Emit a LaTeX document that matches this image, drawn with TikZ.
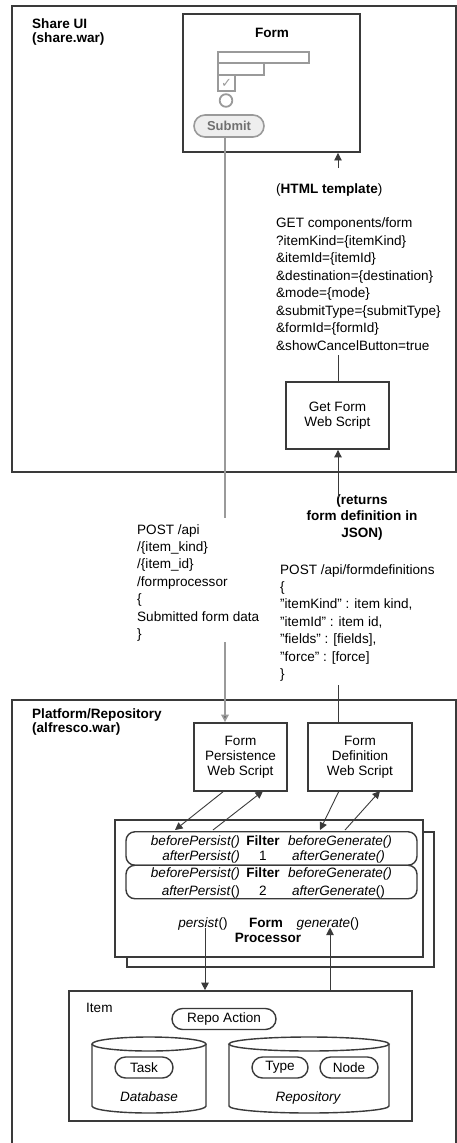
\documentclass[tikz,border=0pt]{standalone}
\usepackage{fontspec}
\setmainfont{Liberation Sans}
\newfontfamily\symfont{DejaVu Sans}
\usetikzlibrary{arrows.meta,shapes.misc}
\definecolor{ink}{HTML}{3A3A3A}
\definecolor{wire}{HTML}{9A9A9A}
\definecolor{pillfill}{HTML}{EEEEEE}
\definecolor{pilltext}{HTML}{707070}
% straight double quote
\newcommand\dq{\symbol{34}}
\begin{document}
\begin{tikzpicture}[x=1bp,y=-1bp,
  every node/.style={inner sep=0pt, font=\fontsize{13.6}{17.5}\selectfont},
  frame/.style={draw=ink, line width=1.9bp},
  box/.style={draw=ink, line width=1.8bp, fill=white, align=center,
    font=\fontsize{13.6}{15}\selectfont},
  pill/.style={rounded rectangle, draw=ink, line width=1.4bp, fill=white,
    minimum height=21bp},
  filterbox/.style={draw=ink, line width=1.4bp, rounded corners=9bp,
    minimum width=291bp, minimum height=33.5bp},
  widget/.style={draw=wire, line width=1.8bp, fill=white},
  link/.style={draw=ink, line width=0.9bp},
  tip/.style={-{Triangle[length=7.5bp,width=7.5bp]}},
  note/.style={align=left, anchor=north west},
  title/.style={align=left, anchor=north west, font=\bfseries\fontsize{13.6}{15}\selectfont},
]
\useasboundingbox (0,0) rectangle (457,1143);

% ---------- Share UI ----------
\node[frame, minimum width=444bp, minimum height=466bp] (share) at (234,239) {};
\node[title] (sharelbl) at (32,18) {Share UI\\(share.war)};

\node[frame, minimum width=177bp, minimum height=138bp] (form) at (271.5,83) {};
\node[font=\bfseries\fontsize{13.6}{15}\selectfont] (formtitle) at (272,33) {Form};
\draw[widget] (218,52) rectangle (309,63);
\draw[widget] (218,63) rectangle (264,75);
\node[widget, minimum width=17bp, minimum height=16bp] (check) at (226.5,83)
  {\color{wire}\symfont\fontsize{13}{13}\selectfont ✓};
\draw[widget] (226,100.5) circle[radius=6.3bp];
\node[rounded rectangle, draw=wire, line width=1.6bp, fill=pillfill,
  minimum width=70bp, minimum height=22bp,
  font=\bfseries\fontsize{13}{15}\selectfont, text=pilltext] (submit) at (229,126) {Submit};

\node[box, minimum width=103bp, minimum height=67bp] (getws) at (337.5,415.5) {Get Form\\Web Script};

\node[note] (getreq) at (276,183) {(\textbf{HTML template})\\[17.5bp]
GET components/form\\
?itemKind=\{itemKind\}\\
\&itemId=\{itemId\}\\
\&destination=\{destination\}\\
\&mode=\{mode\}\\
\&submitType=\{submitType\}\\
\&formId=\{formId\}\\
\&showCancelButton=true};

% ---------- between the two tiers ----------
\node[align=center, anchor=north, font=\bfseries\fontsize{13.6}{17}\selectfont] (returns)
  at (362,494) {(returns\\form definition in\\JSON)};
\node[note] (postproc) at (137,524) {POST /api\\
/\{item\_kind\}\\
/\{item\_id\}\\
/formprocessor\\
\{\\
Submitted form data\\
\}};
\node[note] (postdef) at (280,564) {POST /api/formdefinitions\\
\{\\
\dq itemKind\dq\ : item kind,\\
\dq itemId\dq\ : item id,\\
\dq fields\dq\ : [fields],\\
\dq force\dq\ : [force]\\
\}};

% ---------- Platform / Repository ----------
\draw[frame] (12,1160) -- (12,700) -- (456,700) -- (456,1160);
\node[title] (platlbl) at (32,708) {Platform/Repository\\(alfresco.war)};

\node[box, minimum width=93bp, minimum height=68bp] (persistws) at (240.5,757) {Form\\Persistence\\Web Script};
\node[box, minimum width=104bp, minimum height=68bp] (defws) at (360,757) {Form\\Definition\\Web Script};

% form processor with its shadow copy
\draw[ink, line width=1.7bp, fill=white] (127,832) rectangle (434,967);
\node[draw=ink, line width=1.7bp, fill=white, minimum width=308bp, minimum height=137bp] (proc) at (269,888.5) {};
\node[filterbox] (filterA) at (271.5,848.5) {};
\node[filterbox] (filterB) at (271.5,882) {};

\node[anchor=base east] (aBP) at (240,845.5) {\itshape beforePersist()};
\node[anchor=base east] (aAP) at (240,860) {\itshape afterPersist()};
\node[anchor=base] (aF) at (263,845.5) {\bfseries Filter};
\node[anchor=base] (aN) at (263,860) {1};
\node[anchor=base] (aBG) at (340,845.5) {\itshape beforeGenerate()};
\node[anchor=base] (aAG) at (338.5,860) {\itshape afterGenerate()};

\node[anchor=base east] (bBP) at (240,877.5) {\itshape beforePersist()};
\node[anchor=base east] (bAP) at (240,895.5) {\textit{afterPersist}()};
\node[anchor=base] (bF) at (263,877.5) {\bfseries Filter};
\node[anchor=base] (bN) at (263,895.5) {2};
\node[anchor=base] (bBG) at (340,877.5) {\itshape beforeGenerate()};
\node[anchor=base] (bAG) at (338.5,895.5) {\textit{afterGenerate}()};

\node[anchor=base] (persistlbl) at (203,927.5) {\textit{persist}()};
\node[anchor=base] (proclbl) at (266,927.5) {\bfseries Form};
\node[anchor=base] (proclbl2) at (268,942.5) {\bfseries Processor};
\node[anchor=base] (generatelbl) at (328,927.5) {\textit{generate}()};

% item and its stores
\node[draw=ink, line width=1.7bp, fill=white, minimum width=343bp, minimum height=130bp] (item) at (240.5,1056) {};
\node[anchor=base west] (itemlbl) at (86,1012.5) {Item};
\node[pill, minimum width=104bp] (repoaction) at (224,1019) {Repo Action};

\draw[ink, line width=1.4bp, fill=white] (92,1044) -- (92,1106)
  arc[start angle=180, end angle=360, x radius=57bp, y radius=7bp] -- (206,1044);
\draw[ink, line width=1.4bp, fill=white] (149,1044) ellipse[x radius=57bp, y radius=7bp];
\draw[ink, line width=1.4bp, fill=white] (229,1044) -- (229,1106)
  arc[start angle=180, end angle=360, x radius=80bp, y radius=7bp] -- (389,1044);
\draw[ink, line width=1.4bp, fill=white] (309,1044) ellipse[x radius=80bp, y radius=7bp];

\node[pill, minimum width=58bp] (task) at (144,1067.5) {Task};
\node[anchor=base] (dblbl) at (149,1101.5) {\itshape Database};
\node[pill, minimum width=56bp] (type) at (280,1067.5) {Type};
\node[pill, minimum width=58bp] (nodepill) at (349,1067.5) {Node};
\node[anchor=base] (repolbl) at (308,1101.5) {\itshape Repository};

% ---------- connectors ----------
\coordinate (subA) at (225,518);
\coordinate (subB) at (225,642);
\draw[wire, line width=1.8bp] (submit.south -| subA) -- (subA);
\draw[wire, line width=1.8bp, -{Triangle[length=7.5bp,width=7.5bp,fill=ink]}] (subB) -- (subB |- persistws.north);

\coordinate (getA) at (338,168);
\coordinate (getB) at (338,355);
\draw[link, tip] (getA) -- (getA |- form.south);
\draw[link] (getws.north -| getB) -- (getB);

\coordinate (defA) at (338,497);
\coordinate (defB) at (338,685);
\draw[link, tip] (defA) -- (defA |- getws.south);
\draw[link] (defws.north -| defB) -- (defB);

\coordinate (pwsOut) at (224,791);
\coordinate (pwsIn) at (263,791);
\coordinate (fpIn) at (175,830);
\coordinate (fpOut) at (213,830);
\draw[link, tip] (pwsOut) -- (fpIn);
\draw[link, tip] (fpOut) -- (pwsIn);
\coordinate (dwsOut) at (339,791);
\coordinate (dwsIn) at (380,791);
\coordinate (fgIn) at (320,830);
\coordinate (fgOut) at (345,830);
\draw[link, tip] (dwsOut) -- (fgIn);
\draw[link, tip] (fgOut) -- (dwsIn);

\draw[link, tip] ([yshift=3bp]persistlbl.south -| 205,0) -- (205,0 |- item.north);
\draw[link, tip] (330,0 |- item.north) -- ([yshift=3bp]generatelbl.south -| 330,0);
\end{tikzpicture}
\end{document}
